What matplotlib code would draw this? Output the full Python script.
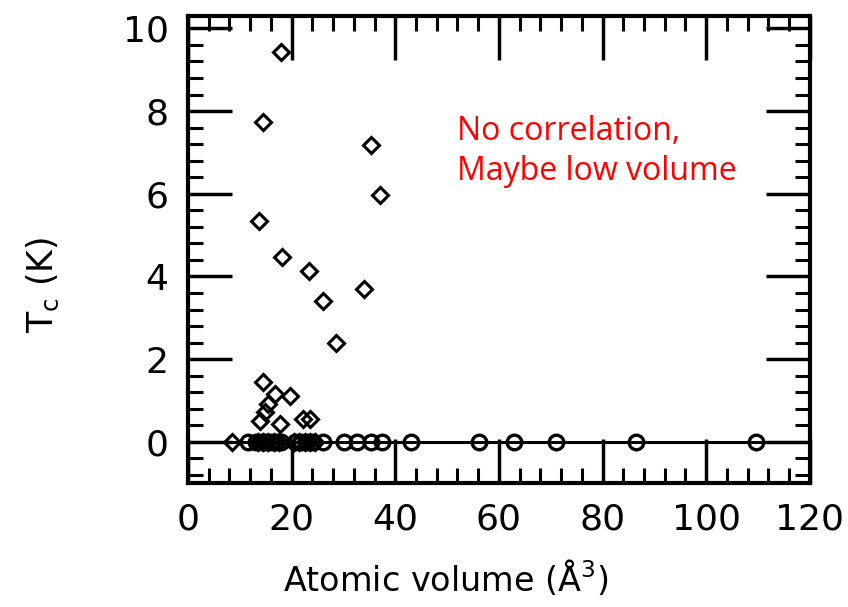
import numpy as np
import matplotlib.pyplot as plt
from matplotlib.ticker import MultipleLocator

# Superconducting elements: Tc against atomic volume
sc_volume = [17.9, 14.4, 35.4, 37.1, 13.7, 18.1, 23.3, 26.0, 34.0, 28.5,
             14.4, 16.7, 19.6, 15.4, 14.8, 13.8, 17.7, 22.1, 23.5]
sc_tc = [9.42, 7.73, 7.18, 5.98, 5.35, 4.46, 4.14, 3.40, 3.69, 2.39,
         1.45, 1.16, 1.11, 0.92, 0.72, 0.51, 0.43, 0.55, 0.55]

# Diamonds sitting on the Tc = 0 line
zero_diamond_volume = [8.5, 13.5, 14.5, 15.5, 16.5, 17.5, 20.5, 21.5, 22.5, 23.5, 24.5]

# Non-superconducting elements (open circles at Tc = 0)
nonsc_volume = [11.5, 13.2, 14.2, 15.0, 16.0, 17.0, 18.0, 20.6, 21.8, 23.0,
                24.2, 26.0, 30.2, 32.7, 35.4, 37.5, 43.0, 56.2, 62.9, 71.0,
                86.5, 109.6]

fig = plt.figure(figsize=(8.48, 6.07), dpi=100)
ax = fig.add_axes([0.2217, 0.204, 0.7333, 0.7696])

ax.axhline(0, color='black', lw=2.2, zorder=1)
ax.plot(nonsc_volume, np.zeros(len(nonsc_volume)), 'o', ms=10.5, mfc='none',
        mec='black', mew=2.4, zorder=2)
ax.plot(zero_diamond_volume, np.zeros(len(zero_diamond_volume)), 'D', ms=8.5,
        mfc='none', mec='black', mew=2.2, zorder=3)
ax.plot(sc_volume, sc_tc, 'D', ms=8.5, mfc='none', mec='black', mew=2.2, zorder=3)

ax.set_xlim(0, 120)
ax.set_ylim(-1, 10.3)
ax.xaxis.set_major_locator(MultipleLocator(20))
ax.xaxis.set_minor_locator(MultipleLocator(4))
ax.yaxis.set_major_locator(MultipleLocator(2))
ax.yaxis.set_minor_locator(MultipleLocator(0.4))
ax.tick_params(which='both', direction='in', top=True, right=True)
ax.tick_params(which='major', length=32, width=2.5, labelsize=26, pad=14)
ax.tick_params(which='minor', length=11, width=2.2)
for s in ax.spines.values():
    s.set_linewidth(3)

ax.set_xlabel('Atomic volume (Å$^3$)', fontsize=24)
ax.xaxis.set_label_coords(0.415, -0.16)
ax.set_ylabel(r'T$_\mathrm{c}$ (K)', fontsize=25)
ax.yaxis.set_label_coords(-0.205, 0.425)

ax.text(0.432, 0.71, 'No correlation,\nMaybe low volume', transform=ax.transAxes,
        color='red', fontsize=23, family='Open Sans', linespacing=1.25,
        ha='left', va='center')

fig.savefig('out.png', dpi=100)
